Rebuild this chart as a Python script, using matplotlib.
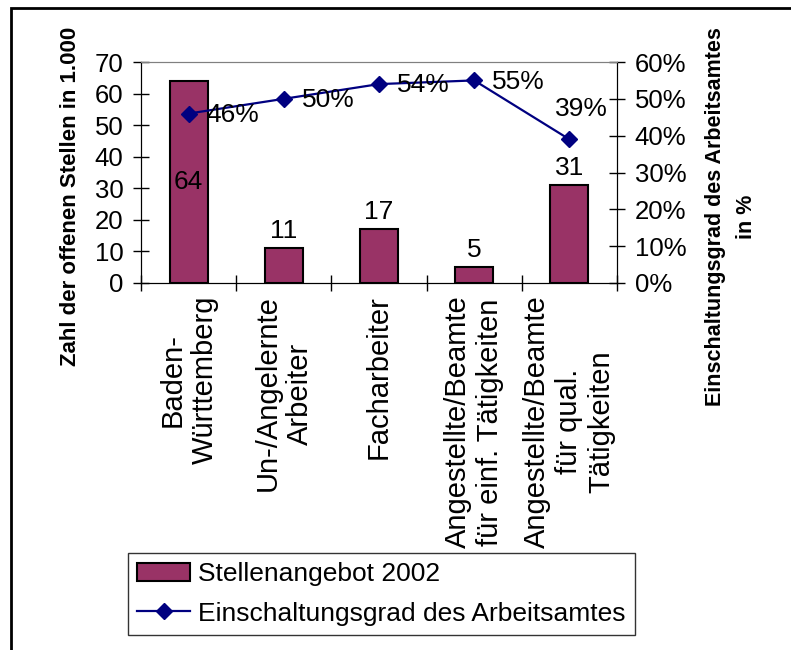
import matplotlib.pyplot as plt
from matplotlib.patches import Rectangle
from matplotlib.ticker import FuncFormatter

plt.rcParams['font.family'] = ['Liberation Sans', 'DejaVu Sans']

kategorien = ['Baden-\nWürttemberg', 'Un-/Angelernte\nArbeiter', 'Facharbeiter',
              'Angestellte/Beamte\nfür einf. Tätigkeiten',
              'Angestellte/Beamte\nfür qual.\nTätigkeiten']
stellen = [64, 11, 17, 5, 31]
einschaltung = [0.46, 0.50, 0.54, 0.55, 0.39]

fig = plt.figure(figsize=(7.91, 6.5), dpi=100)
ax = fig.add_axes([141 / 791, 1 - 283 / 650, 476 / 791, 221 / 650])
ax2 = ax.twinx()

x = list(range(len(kategorien)))
bars = ax.bar(x, stellen, width=0.4, color='#993366', edgecolor='black',
              linewidth=1.5, label='Stellenangebot 2002', zorder=2)
line, = ax2.plot(x, einschaltung, color='#000080', lw=1.6, marker='D', ms=8.5,
                 label='Einschaltungsgrad des Arbeitsamtes', zorder=3)

ax.set_xlim(-0.5, len(kategorien) - 0.5)
ax.set_ylim(0, 70)
ax.set_yticks(range(0, 71, 10))
ax2.set_ylim(0, 0.6)
ax2.set_yticks([i / 10 for i in range(7)])
ax2.yaxis.set_major_formatter(FuncFormatter(lambda v, p: f'{v * 100:.0f}%'))

# Trennstriche zwischen den Kategorien, Beschriftung in der Mitte
ax.set_xticks([i + 0.5 for i in range(-1, len(kategorien))])
ax.set_xticklabels([])
ax.set_xticks(x, minor=True)
ax.set_xticklabels(kategorien, minor=True, rotation=90, va='top', ha='center',
                   multialignment='center', fontsize=21)
ax.tick_params(axis='x', which='minor', length=0, pad=9)
ax.tick_params(axis='x', which='major', direction='inout', length=11.5, width=1)
ax.tick_params(axis='y', direction='inout', length=11.5, width=1, labelsize=18.5, pad=7)
ax2.tick_params(axis='y', direction='inout', length=11.5, width=1, labelsize=18.5, pad=7)

for a in (ax, ax2):
    a.spines['top'].set_color('#808080')
    a.spines['left'].set_color('black')
    a.spines['right'].set_color('black')
    a.spines['bottom'].set_color('black')
ax.patch.set_visible(False)

# Werte an den Säulen
for i, v in enumerate(stellen):
    if v == max(stellen):
        ax.text(i, v / 2, str(v), ha='center', va='center', fontsize=19, zorder=4)
    else:
        ax.annotate(str(v), (i, v), xytext=(0, 7.5), textcoords='offset points',
                    ha='center', va='baseline', fontsize=19)

# Prozentwerte an der Linie
for i, v in enumerate(einschaltung):
    if i == len(einschaltung) - 1:
        ax2.annotate(f'{v * 100:.0f}%', (i, v), xytext=(9, 22), textcoords='offset points',
                     ha='center', va='center', fontsize=19)
    else:
        ax2.annotate(f'{v * 100:.0f}%', (i, v), xytext=(13, -1), textcoords='offset points',
                     ha='left', va='center', fontsize=19)

fig.text(71 / 791, 1 - 196 / 650, 'Zahl der offenen Stellen in 1.000', rotation=90,
         ha='center', va='center', fontsize=16, fontweight='bold')
fig.text(731 / 791, 1 - 217 / 650, 'Einschaltungsgrad des Arbeitsamtes\nin %', rotation=90,
         ha='center', va='center', fontsize=15.5, fontweight='bold',
         multialignment='center', linespacing=1.6)

leg = fig.legend([bars, line], ['Stellenangebot 2002', 'Einschaltungsgrad des Arbeitsamtes'],
                 loc='upper left', bbox_to_anchor=(128 / 791, 1 - 553 / 650),
                 fontsize=19, frameon=True, fancybox=False, edgecolor='black',
                 handlelength=2.0, handletextpad=0.3, borderpad=0.35, labelspacing=0.58,
                 borderaxespad=0)
leg.get_frame().set_linewidth(1)

fig.add_artist(Rectangle((11 / 791, -0.1), 1.0, 1 - 8 / 650 + 0.1, transform=fig.transFigure,
                         fill=False, edgecolor='black', linewidth=2))

fig.savefig('out.png', dpi=100)
